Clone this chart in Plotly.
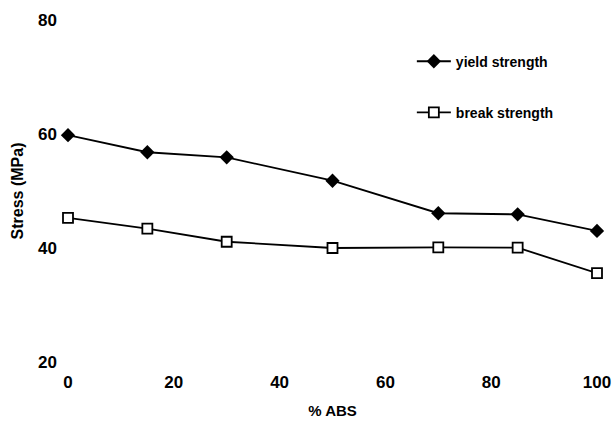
import plotly.graph_objects as go

abs_pct = [0, 15, 30, 50, 70, 85, 100]
yield_strength = [59.8, 56.8, 55.9, 51.8, 46.1, 45.9, 43.0]
break_strength = [45.3, 43.4, 41.1, 40.0, 40.1, 40.05, 35.6]
x_ticks = [0, 20, 40, 60, 80, 100]
y_ticks = [20, 40, 60, 80]

FONT = "Liberation Sans, Arial, sans-serif"

fig = go.Figure()
fig.add_trace(go.Scatter(
    x=abs_pct, y=yield_strength, mode="lines+markers", name="yield strength",
    line=dict(color="black", width=1.8),
    marker=dict(symbol="diamond", size=11, color="black"),
    cliponaxis=False, legendgroup="a",
))
fig.add_trace(go.Scatter(
    x=abs_pct, y=break_strength, mode="lines+markers", name="break strength",
    line=dict(color="black", width=1.8),
    marker=dict(symbol="square", size=10, color="white", line=dict(color="black", width=1.8)),
    cliponaxis=False, legendgroup="b",
))

fig.update_layout(
    width=613, height=427,
    margin=dict(l=68, r=16, t=20, b=65),
    paper_bgcolor="white", plot_bgcolor="white",
    font=dict(family=FONT, color="black", weight="bold"),
    legend=dict(x=0.65, y=0.925, xanchor="left", yanchor="top",
                font=dict(size=14, family=FONT, weight="bold"), tracegroupgap=30,
                bgcolor="rgba(0,0,0,0)", itemwidth=34),
    xaxis=dict(range=[0, 100], tickvals=x_ticks, showgrid=False, zeroline=False,
               showline=False, ticks="", ticklabelstandoff=8, automargin=False,
               tickfont=dict(size=17, family=FONT, weight="bold"),
               title=dict(text="% ABS", font=dict(size=15, family=FONT, weight="bold"), standoff=14)),
    yaxis=dict(range=[20, 80], tickvals=y_ticks, showgrid=False, zeroline=False,
               showline=False, ticks="", ticklabelstandoff=10, automargin=False,
               tickfont=dict(size=17, family=FONT, weight="bold"),
               title=dict(text="Stress (MPa)", font=dict(size=16, family=FONT, weight="bold"), standoff=10)),
)

fig.write_html("out.html")
